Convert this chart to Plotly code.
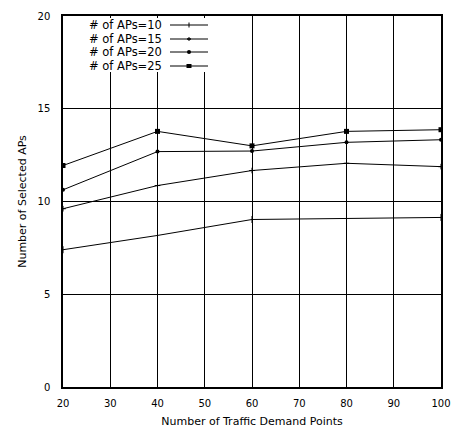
import plotly.graph_objects as go

x_points = [20, 40, 60, 80, 100]
aps10 = [7.40, 8.17, 9.03, 9.10, 9.14]
aps15 = [9.61, 10.86, 11.67, 12.06, 11.88]
aps20 = [10.63, 12.69, 12.72, 13.19, 13.33]
aps25 = [11.94, 13.78, 13.00, 13.78, 13.87]
series_names = ["# of APs=10", "# of APs=15", "# of APs=20", "# of APs=25"]
x_ticks = [20, 30, 40, 50, 60, 70, 80, 90, 100]
y_ticks = [0, 5, 10, 15, 20]

FONT = "DejaVu Sans"
W, H = 454, 430
# target plot area on screen: x 63..441, y 16..387
L, T = 63, 16
R = W - 441
B = H - 387
PW, PH = W - L - R, H - T - B

def px(xs):
    return (xs - L) / PW

def py(ys):
    return (H - B - ys) / PH

symbols = [
    dict(symbol="line-ns-open", size=5, color="black", line=dict(width=1, color="black")),
    dict(symbol="cross-thin-open", size=4, color="black", line=dict(width=1, color="black")),
    dict(symbol="circle", size=4, color="black"),
    dict(symbol="square", size=5, color="black"),
]

fig = go.Figure()
for name, ys, m in zip(series_names, [aps10, aps15, aps20, aps25], symbols):
    fig.add_trace(go.Scatter(
        x=x_points, y=ys, name=name, mode="lines+markers",
        line=dict(color="black", width=1), marker=m, showlegend=False,
    ))

shapes = []
annotations = []
# legend background
shapes.append(dict(type="rect", xref="paper", yref="paper",
                   x0=px(74), x1=px(214), y0=py(18), y1=py(72),
                   fillcolor="white", line=dict(width=0), layer="above"))
rows = [25, 39, 52, 66]
for i, (name, yy) in enumerate(zip(series_names, rows)):
    annotations.append(dict(xref="paper", yref="paper", x=px(164), y=py(yy),
                            text=name, showarrow=False, xanchor="right", yanchor="middle",
                            font=dict(family=FONT, size=11.5, color="black")))
    shapes.append(dict(type="line", xref="paper", yref="paper",
                       x0=px(170), x1=px(208), y0=py(yy), y1=py(yy),
                       line=dict(color="black", width=1), layer="above"))
    cx = 189
    if i == 0:
        shapes.append(dict(type="line", xref="paper", yref="paper",
                           x0=px(cx), x1=px(cx), y0=py(yy - 2.5), y1=py(yy + 2.5),
                           line=dict(color="black", width=1), layer="above"))
    elif i == 1:
        shapes.append(dict(type="line", xref="paper", yref="paper",
                           x0=px(cx), x1=px(cx), y0=py(yy - 2), y1=py(yy + 2),
                           line=dict(color="black", width=1), layer="above"))
        shapes.append(dict(type="line", xref="paper", yref="paper",
                           x0=px(cx - 2), x1=px(cx + 2), y0=py(yy), y1=py(yy),
                           line=dict(color="black", width=1.5), layer="above"))
    elif i == 2:
        shapes.append(dict(type="circle", xref="paper", yref="paper",
                           x0=px(cx - 2), x1=px(cx + 2), y0=py(yy - 2), y1=py(yy + 2),
                           fillcolor="black", line=dict(color="black", width=0), layer="above"))
    else:
        shapes.append(dict(type="rect", xref="paper", yref="paper",
                           x0=px(cx - 2.5), x1=px(cx + 2.5), y0=py(yy - 2), y1=py(yy + 2),
                           fillcolor="black", line=dict(color="black", width=0), layer="above"))

fig.update_layout(
    width=W, height=H,
    margin=dict(l=L, r=R, t=T, b=B, pad=0),
    paper_bgcolor="white", plot_bgcolor="white",
    font=dict(family=FONT, size=10, color="black"),
    shapes=shapes, annotations=annotations,
)
fig.update_xaxes(
    range=[20, 100], tickvals=x_ticks, ticktext=[str(v) for v in x_ticks],
    showgrid=True, gridcolor="black", gridwidth=1.3,
    showline=True, linecolor="black", linewidth=1.5, mirror=True,
    ticks="outside", ticklen=6, tickcolor="rgba(0,0,0,0)",
    zeroline=False, automargin=False, ticklabeloverflow="allow",
    title=dict(text="Number of Traffic Demand Points", font=dict(family=FONT, size=11), standoff=10),
)
fig.update_yaxes(
    range=[0, 20], tickvals=y_ticks, ticktext=[str(v) for v in y_ticks],
    showgrid=True, gridcolor="black", gridwidth=1.3,
    showline=True, linecolor="black", linewidth=1.5, mirror=True,
    ticks="outside", ticklen=9, tickcolor="rgba(0,0,0,0)",
    zeroline=False, automargin=False, ticklabeloverflow="allow",
    title=dict(text="Number of Selected APs", font=dict(family=FONT, size=11), standoff=9),
)

fig.write_html(
    "out.html",
    config={"displayModeBar": False},
    post_script="document.body.style.margin='0';document.body.style.overflow='hidden';",
)
